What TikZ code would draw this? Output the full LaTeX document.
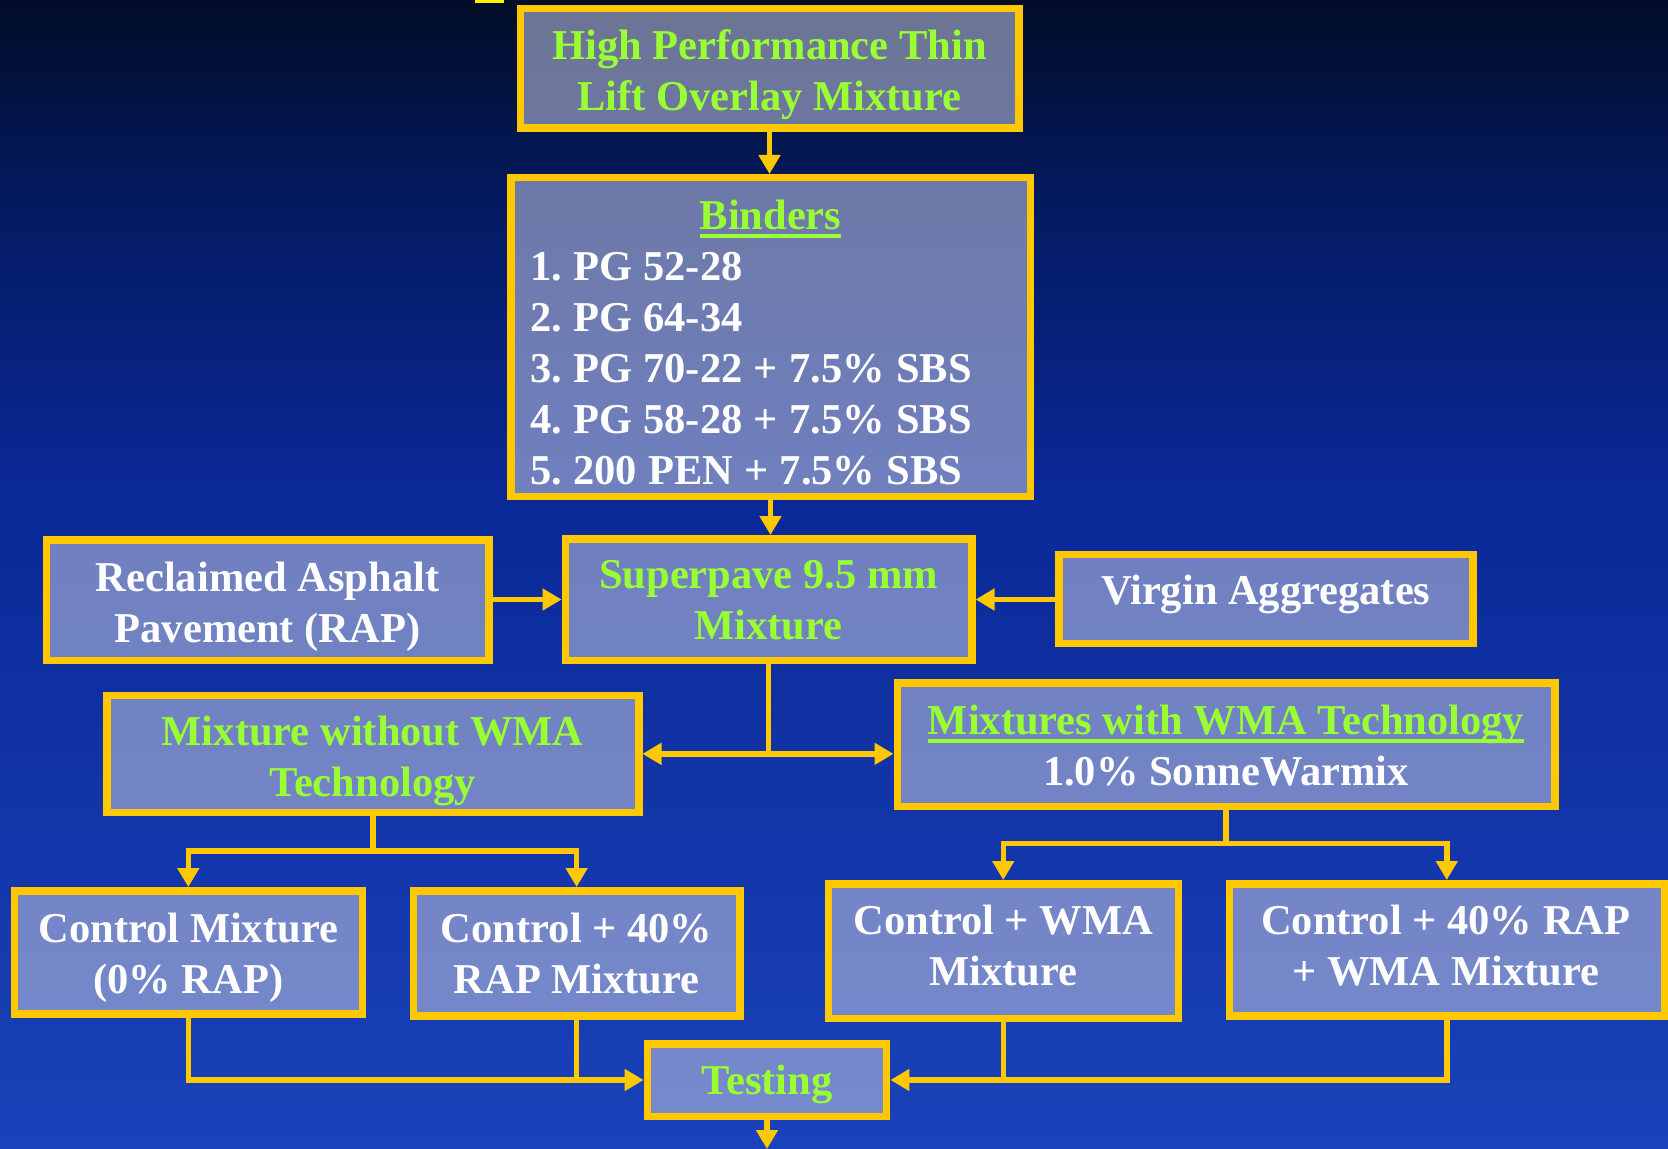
\documentclass[tikz,border=0pt]{standalone}
\usepackage{fontspec}
\setmainfont{Liberation Serif}
\usetikzlibrary{arrows.meta}
\definecolor{bgtop}{RGB}{2,13,40}
\definecolor{bgup}{RGB}{4,26,95}
\definecolor{bgmid}{RGB}{10,40,150}
\definecolor{bgbot}{RGB}{26,66,186}
\definecolor{gold}{RGB}{255,200,0}
\definecolor{lime}{RGB}{153,255,51}
\definecolor{boxfill}{RGB}{180,186,218}
\newcommand{\grn}[1]{\textcolor{lime}{#1}}
\newcommand{\myul}[1]{\setbox0\hbox{#1}\rlap{\rule[-4.3pt]{\wd0}{1.8pt}}\box0}
\frenchspacing
\begin{document}
\begin{tikzpicture}[x=0.5pt,y=-0.5pt,
  box/.style={draw=gold, line width=3.75pt, fill=boxfill, fill opacity=0.6, inner sep=0pt},
  txt/.style={inner sep=0pt, align=center, text=white,
    font=\bfseries\fontsize{21.25}{25.5}\selectfont},
  conn/.style={draw=gold, line width=2.75pt},
  arr/.style={conn, -{Triangle[length=9.5pt,width=10.5pt]}}]
\useasboundingbox (0,0) rectangle (1668,1149);
% background
\shade[top color=bgtop, bottom color=bgup] (0,0) rectangle (1668,200);
\shade[top color=bgup, bottom color=bgmid] (0,199) rectangle (1668,480);
\shade[top color=bgmid, bottom color=bgbot] (0,479) rectangle (1668,1149);
\fill[yellow] (475,0) rectangle (504,3);
% boxes
\node[box, minimum width=249.25pt, minimum height=59.75pt] (top) at (769.5,68.5) {};
\node[box, minimum width=259.75pt, minimum height=159.25pt] (binders) at (770.5,337) {};
\node[box, minimum width=221.25pt, minimum height=60.25pt] (rap) at (267.5,600) {};
\node[box, minimum width=203.25pt, minimum height=60.75pt] (sp) at (768.6,599.5) {};
\node[box, minimum width=207.05pt, minimum height=44.55pt] (virgin) at (1265.8,599) {};
\node[box, minimum width=266pt, minimum height=58.4pt] (mixwo) at (372.75,753.85) {};
\node[box, minimum width=328.75pt, minimum height=61.75pt] (mixw) at (1226,744.5) {};
\node[box, minimum width=173.95pt, minimum height=61.6pt] (cm) at (188.3,952.4) {};
\node[box, minimum width=163.25pt, minimum height=62.6pt] (c40) at (576.6,953.4) {};
\node[box, minimum width=175pt, minimum height=67.25pt] (cw) at (1003.25,951) {};
\node[box, minimum width=217.5pt, minimum height=66.1pt] (cwr) at (1446.75,949.85) {};
\node[box, minimum width=119.65pt, minimum height=36.25pt] (test) at (767,1080) {};
% texts
\node[txt, yshift=-3.2pt] (top-t) at (top)
  {\grn{High Performance Thin}\\\grn{Lift Overlay Mixture}};
\node[txt, yshift=-2.7pt, text width=240.5pt, align=left] (binders-t) at (binders)
  {\centering\grn{\myul{Binders}}\par\raggedright\spaceskip=0.265em\relax
   1. PG 52-28\\2. PG 64-34\\3. PG 70-22 + 7.5\% SBS\\4. PG 58-28 + 7.5\% SBS\\5. 200 PEN + 7.5\% SBS};
\node[txt, yshift=-3.2pt] (rap-t) at (rap) {Reclaimed Asphalt\\Pavement (RAP)};
\node[txt, yshift=-0.5pt] (sp-t) at (sp) {\grn{Superpave 9.5 mm}\\\grn{Mixture}};
\node[txt, yshift=2.1pt] (virgin-t) at (virgin) {Virgin Aggregates};
\node[txt, yshift=-3.7pt] (mixwo-t) at (mixwo) {\grn{Mixture without WMA}\\\grn{Technology}};
\node[txt, yshift=-0.5pt] (mixw-t) at (mixw)
  {\grn{\myul{Mixtures with WMA Technology}}\\1.0\% SonneWarmix};
\node[txt, yshift=-2.6pt] (cm-t) at (cm) {Control Mixture\\(0\% RAP)};
\node[txt] (c40-t) at (c40) {Control + 40\%\\RAP Mixture};
\node[txt, yshift=2.6pt] (cw-t) at (cw) {Control + WMA\\Mixture};
\node[txt, yshift=2.1pt, xshift=-0.5pt] (cwr-t) at (cwr) {Control + 40\% RAP\\+ WMA Mixture};
\node[txt, yshift=-2.1pt] (test-t) at (test) {\grn{Testing}};
% helper coordinates
\coordinate (split) at (sp.south |- mixwo.east);
\coordinate (lsplit) at (372.75,851);
\coordinate (rsplit) at (1226,843.6);
\coordinate (out) at (767,1149);
% connectors
\draw[arr] (top.south) -- (top.south |- binders.north);
\draw[arr] (binders.south) -- (binders.south |- sp.north);
\draw[arr] (rap.east |- sp.west) -- (sp.west);
\draw[arr] (virgin.west |- sp.east) -- (sp.east);
\draw[arr] (sp.south) -- (split) -- (mixwo.east);
\draw[arr] (split) -- (split -| mixw.west);
\draw[conn] (mixwo.south) -- (lsplit);
\draw[arr] (lsplit) -| (cm.north);
\draw[arr] (lsplit) -| (c40.north);
\draw[conn] (mixw.south) -- (rsplit);
\draw[arr] (rsplit) -| (cw.north);
\draw[arr] (rsplit) -| (cwr.north);
\draw[conn] (c40.south) -- (c40.south |- test.west);
\draw[arr] (cm.south) |- (test.west);
\draw[conn] (cw.south) -- (cw.south |- test.east);
\draw[arr] (cwr.south) |- (test.east);
\draw[arr] (test.south) -- (out);
\end{tikzpicture}
\end{document}
